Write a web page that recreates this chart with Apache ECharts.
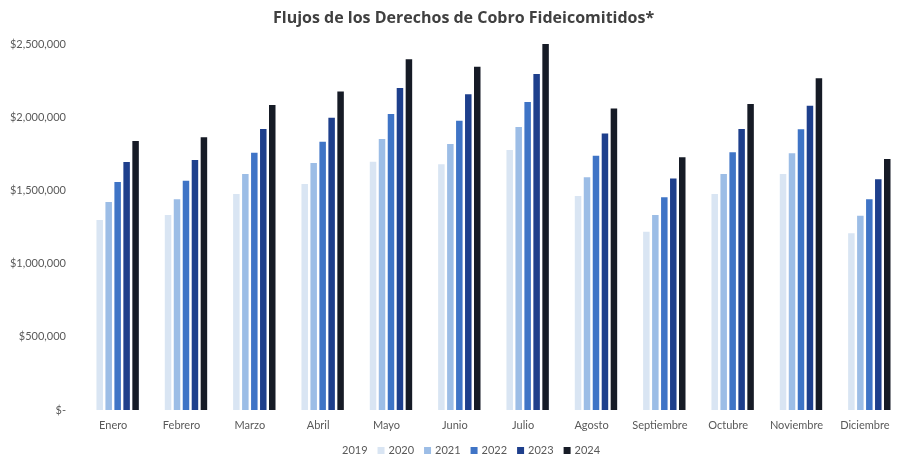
<!DOCTYPE html>
<html>
<head>
<meta charset="utf-8">
<script src="https://cdn.jsdelivr.net/npm/echarts@6/dist/echarts.min.js"></script>
<style>
html,body{margin:0;padding:0;background:#fff;}
#c{width:899px;height:458px;}
</style>
</head>
<body>
<div id="c"></div>
<script>
const categories = ['Enero','Febrero','Marzo','Abril','Mayo','Junio','Julio','Agosto','Septiembre','Octubre','Noviembre','Diciembre'];
const years = ['2019','2020','2021','2022','2023','2024'];
const v2019 = [1190000,1220000,1350000,1420000,1560000,1540000,1630000,1340000,1120000,1350000,1480000,1110000];
const v2020 = [1298000,1332000,1475000,1544000,1696000,1678000,1776000,1462000,1218000,1475000,1612000,1207000];
const v2021 = [1421000,1439000,1612000,1687000,1851000,1817000,1933000,1589000,1332000,1612000,1753000,1327000];
const v2022 = [1557000,1566000,1757000,1833000,2022000,1976000,2104000,1737000,1453000,1760000,1917000,1439000];
const v2023 = [1694000,1708000,1919000,1997000,2199000,2156000,2295000,1889000,1582000,1919000,2079000,1576000];
const v2024 = [1837000,1863000,2083000,2175000,2395000,2345000,2500000,2060000,1726000,2090000,2266000,1715000];
const yTicks = [0,500000,1000000,1500000,2000000,2500000];

const seriesValues = [v2019,v2020,v2021,v2022,v2023,v2024];
const colors = ['#ffffff','#d9e5f3','#9cbde6','#3f74c6','#1e3f8c','#161b26'];

const chart = echarts.init(document.getElementById('c'));
const font = 'Lato, "Open Sans", sans-serif';
chart.setOption({
  animation:false,
  backgroundColor:'#fff',
  title:{
    text:'Flujos de los Derechos de Cobro Fideicomitidos*',
    left:268, top:5,
    textStyle:{fontFamily:'"Open Sans", sans-serif',fontWeight:'bold',fontSize:16,color:'#404040'}
  },
  legend:{
    data:years,
    left:326, top:440,
    itemWidth:7, itemHeight:7, itemGap:10,
    icon:'rect',
    textStyle:{fontFamily:font,fontSize:11,color:'#595959',padding:[0,0,0,-1]}
  },
  grid:{left:79, width:827, top:44, bottom:48},
  xAxis:{
    type:'category',
    data:categories,
    axisLine:{show:false},
    axisTick:{show:false},
    axisLabel:{interval:0,fontFamily:font,fontSize:11,color:'#595959',margin:10},
    splitLine:{show:false}
  },
  yAxis:{
    type:'value',
    min:yTicks[0], max:yTicks[yTicks.length-1], interval:yTicks[1]-yTicks[0],
    axisLine:{show:false},
    axisTick:{show:false},
    splitLine:{show:false},
    axisLabel:{
      fontFamily:font,fontSize:11,color:'#595959',margin:13,
      formatter:function(v){return v===0?'$-':'$'+v.toLocaleString('en-US');}
    }
  },
  series: years.map((y,i)=>({
    name:y,
    type:'bar',
    data:seriesValues[i],
    barWidth:6.5,
    barGap:'38%',
    itemStyle:{color:colors[i]}
  }))
});
</script>
</body>
</html>
